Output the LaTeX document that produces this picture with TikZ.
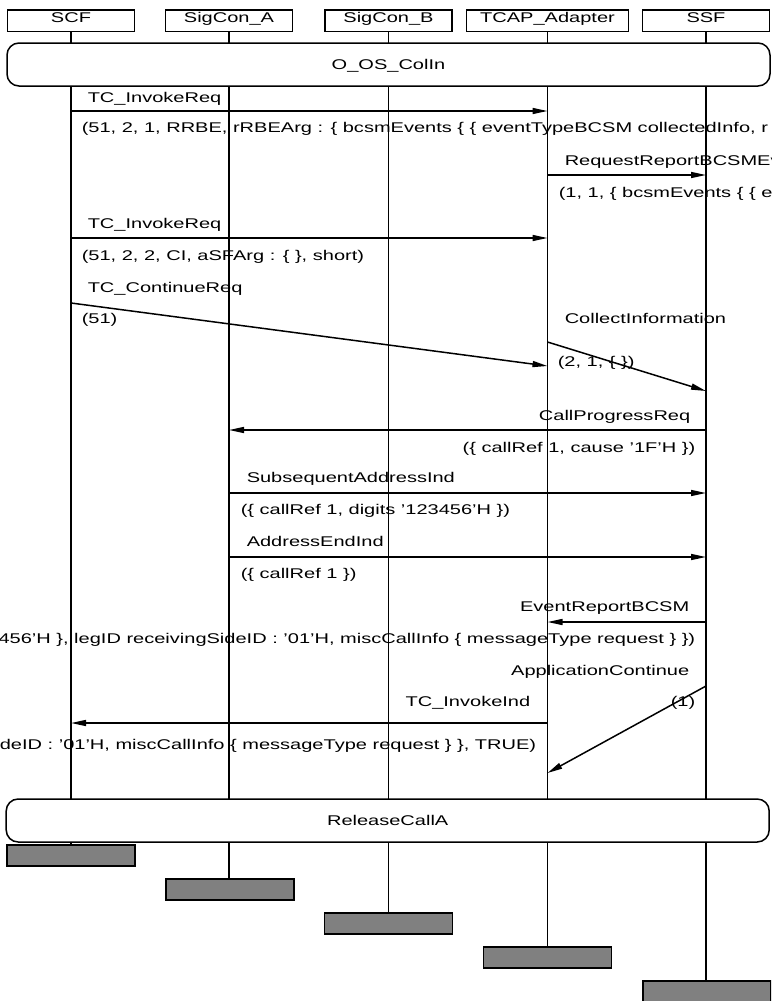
\documentclass[tikz,border=0pt]{standalone}
\usepackage{fontspec}
\setmainfont[FakeStretch=1.42]{Liberation Sans}
\usetikzlibrary{arrows.meta}

\begin{document}
\begin{tikzpicture}[x=1pt, y=-1pt, line width=1.5pt,
  font=\fontsize{14.1}{16}\selectfont,
  head/.style={draw, fill=white, anchor=north, minimum width=127pt,
    inner xsep=0pt, inner ysep=2.3pt, text height=10pt, text depth=7pt},
  frame/.style={draw, fill=white, rounded corners=12pt, minimum width=763pt,
    minimum height=43pt, inner sep=0pt, text height=10pt, text depth=0pt},
  endbox/.style={draw, fill=black!50, anchor=north, minimum width=128pt,
    minimum height=21pt, inner sep=0pt},
  msg/.style={-{Triangle[length=15pt,width=6pt]}},
  lw/.style={anchor=base west, inner sep=0pt},
  le/.style={anchor=base east, inner sep=0pt}]

\useasboundingbox (0,0) rectangle (771,1001);
\clip (0,0) rectangle (771,1001);

% instance heads
\node[head] (scf)  at (71,9.3)  {SCF};
\node[head] (siga) at (229,9.3) {SigCon\_A};
\node[head] (sigb) at (388.5,9.3) {SigCon\_B};
\node[head, minimum width=162pt] (tcap) at (547.5,9.3) {TCAP\_Adapter};
\node[head] (ssf)  at (706,9.3) {SSF};

% instance ends
\node[endbox] (scfx)  at (71,844)  {};
\node[endbox] (sigax) at (230,878) {};
\node[endbox] (sigbx) at (388.5,912) {};
\node[endbox] (tcapx) at (547.5,946) {};
\node[endbox] (ssfx)  at (707,980) {};

% lifelines
\draw (scf.south)  -- (scf.south |- scfx.north);
\draw (siga.south) -- (siga.south |- sigax.north);
\draw (sigb.south) -- (sigb.south |- sigbx.north);
\draw (tcap.south) -- (tcap.south |- tcapx.north);
\draw (ssf.south)  -- (ssf.south |- ssfx.north);

% shared references
\node[frame] (colin) at (388.5,64.5) {O\_OS\_ColIn};
\node[frame] (rel) at (387.7,820.5) {ReleaseCallA};

% messages
\draw[msg] (scf.south |- 0,111) -- (tcap.south |- 0,111);
\node[lw] (t1) at (87,102) {TC\_InvokeReq};
\node[lw] (p1) at (81,132) {(51, 2, 1, RRBE, rRBEArg : \{ bcsmEvents \{ \{ eventTypeBCSM collectedInfo, r};

\draw[msg] (tcap.south |- 0,175) -- (ssf.south |- 0,175);
\node[lw] (t2) at (564,165) {RequestReportBCSMEvent};
\node[lw] (p2) at (558,197) {(1, 1, \{ bcsmEvents \{ \{ eventTypeBCSM collectedInfo \} \} \})};

\draw[msg] (scf.south |- 0,238) -- (tcap.south |- 0,238);
\node[lw] (t3) at (87,228) {TC\_InvokeReq};
\node[lw] (p3) at (81,260) {(51, 2, 2, CI, aSFArg : \{ \}, short)};

\draw[msg] (scf.south |- 0,303) -- (tcap.south |- 0,366);
\node[lw] (t4) at (87,292) {TC\_ContinueReq};
\node[lw] (p4) at (81,323) {(51)};

\draw[msg] (tcap.south |- 0,342) -- (ssf.south |- 0,391);
\node[lw] (t5) at (564,323) {CollectInformation};
\node[lw] (p5) at (557,366) {(2, 1, \{ \})};

\draw[msg] (ssf.south |- 0,430) -- (siga.south |- 0,430);
\node[le] (t6) at (691,420) {CallProgressReq};
\node[le] (p6) at (696,452) {(\{ callRef 1, cause '1F'H \})};

\draw[msg] (siga.south |- 0,493) -- (ssf.south |- 0,493);
\node[lw] (t7) at (246,482) {SubsequentAddressInd};
\node[lw] (p7) at (240,514) {(\{ callRef 1, digits '123456'H \})};

\draw[msg] (siga.south |- 0,557) -- (ssf.south |- 0,557);
\node[lw] (t8) at (246,546) {AddressEndInd};
\node[lw] (p8) at (240,578) {(\{ callRef 1 \})};

\draw[msg] (ssf.south |- 0,622) -- (tcap.south |- 0,622);
\node[le] (t9) at (690,611) {EventReportBCSM};
\node[le] (p9) at (696,643) {'123456'H \}, legID receivingSideID : '01'H, miscCallInfo \{ messageType request \} \})};

\draw[msg] (ssf.south |- 0,686) -- (tcap.south |- 0,773);
\node[le] (t10) at (690,675) {ApplicationContinue};
\node[le] (p10) at (696,706) {(1)};

\draw[msg] (tcap.south |- 0,723) -- (scf.south |- 0,723);
\node[le] (t11) at (531,706) {TC\_InvokeInd};
\node[le] (p11) at (537,749) {receivingSideID : '01'H, miscCallInfo \{ messageType request \} \}, TRUE)};

\end{tikzpicture}
\end{document}
